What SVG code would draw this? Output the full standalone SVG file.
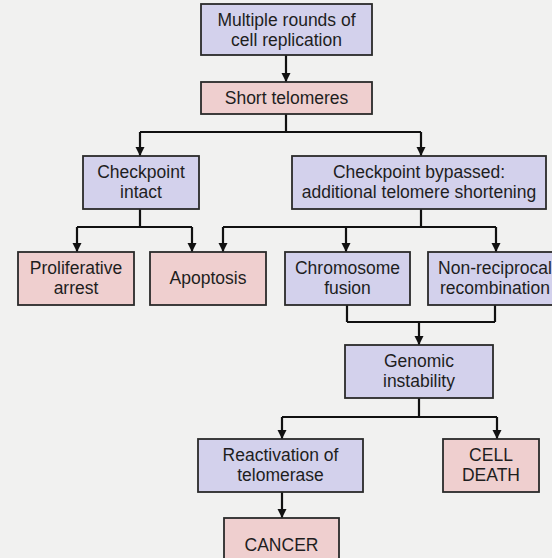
<svg xmlns="http://www.w3.org/2000/svg" width="552" height="558" viewBox="0 0 552 558">
<style>
.bg{fill:#f1f1f0}
.box{stroke:#2a2a2a;stroke-width:1.8}
.lav{fill:#d3d1ec}
.pink{fill:#efcfcf}
.t{font-family:"Liberation Sans",Arial,sans-serif;font-size:17.5px;fill:#1e1e1e;text-anchor:middle}
.c{stroke:#111;stroke-width:2.2;fill:none}
</style>
<defs>
<marker id="ah" viewBox="0 0 10 10" refX="10" refY="5" markerWidth="4.2" markerHeight="4.2" markerUnits="strokeWidth" orient="auto">
<path d="M0,0 L10,5 L0,10 z" fill="#111"/>
</marker>
</defs>
<rect class="bg" x="0" y="0" width="552" height="558"/>
<g id="connectors">
<path class="c" d="M286,55 V82" marker-end="url(#ah)"/>
<path class="c" d="M286,114 V132 M140,132 H421"/>
<path class="c" d="M140,132 V156" marker-end="url(#ah)"/>
<path class="c" d="M421,132 V156" marker-end="url(#ah)"/>
<path class="c" d="M140,209 V227 M77,227 H192"/>
<path class="c" d="M77,227 V252" marker-end="url(#ah)"/>
<path class="c" d="M192,227 V252" marker-end="url(#ah)"/>
<path class="c" d="M421,209 V227 M223,227 H496"/>
<path class="c" d="M223,227 V252" marker-end="url(#ah)"/>
<path class="c" d="M346,227 V252" marker-end="url(#ah)"/>
<path class="c" d="M496,227 V252" marker-end="url(#ah)"/>
<path class="c" d="M347,305 V322 M495,305 V322 M347,322 H495"/>
<path class="c" d="M419,322 V345" marker-end="url(#ah)"/>
<path class="c" d="M419,398 V417 M282,417 H497"/>
<path class="c" d="M282,417 V439" marker-end="url(#ah)"/>
<path class="c" d="M497,417 V439" marker-end="url(#ah)"/>
<path class="c" d="M282,492 V518" marker-end="url(#ah)"/>
</g>
<g id="n-replication">
<rect class="box lav" x="201" y="4" width="171" height="51"/>
<text class="t" x="286.5" y="26">Multiple rounds of</text>
<text class="t" x="286.5" y="46">cell replication</text>
</g>
<g id="n-short">
<rect class="box pink" x="201" y="82" width="171" height="32"/>
<text class="t" x="286.5" y="104">Short telomeres</text>
</g>
<g id="n-intact">
<rect class="box lav" x="83" y="156" width="116" height="53"/>
<text class="t" x="141" y="178">Checkpoint</text>
<text class="t" x="141" y="198">intact</text>
</g>
<g id="n-bypassed">
<rect class="box lav" x="292" y="156" width="254" height="53"/>
<text class="t" x="419" y="178">Checkpoint bypassed:</text>
<text class="t" x="419" y="198">additional telomere shortening</text>
</g>
<g id="n-arrest">
<rect class="box pink" x="18" y="252" width="116" height="53"/>
<text class="t" x="76" y="274">Proliferative</text>
<text class="t" x="76" y="294">arrest</text>
</g>
<g id="n-apoptosis">
<rect class="box pink" x="150" y="252" width="116" height="53"/>
<text class="t" x="208" y="284">Apoptosis</text>
</g>
<g id="n-fusion">
<rect class="box lav" x="285" y="252" width="125" height="53"/>
<text class="t" x="347.5" y="274">Chromosome</text>
<text class="t" x="347.5" y="294">fusion</text>
</g>
<g id="n-nonrecip">
<rect class="box lav" x="428" y="252" width="134" height="53"/>
<text class="t" x="495" y="274">Non-reciprocal</text>
<text class="t" x="495" y="294">recombination</text>
</g>
<g id="n-genomic">
<rect class="box lav" x="345" y="345" width="148" height="53"/>
<text class="t" x="419" y="367">Genomic</text>
<text class="t" x="419" y="387">instability</text>
</g>
<g id="n-reactivation">
<rect class="box lav" x="198" y="439" width="165" height="53"/>
<text class="t" x="280.5" y="461">Reactivation of</text>
<text class="t" x="280.5" y="481">telomerase</text>
</g>
<g id="n-celldeath">
<rect class="box pink" x="443" y="439" width="96" height="53"/>
<text class="t" x="491" y="461">CELL</text>
<text class="t" x="491" y="481">DEATH</text>
</g>
<g id="n-cancer">
<rect class="box pink" x="224" y="518" width="115" height="53"/>
<text class="t" x="281.5" y="551">CANCER</text>
</g>
</svg>
